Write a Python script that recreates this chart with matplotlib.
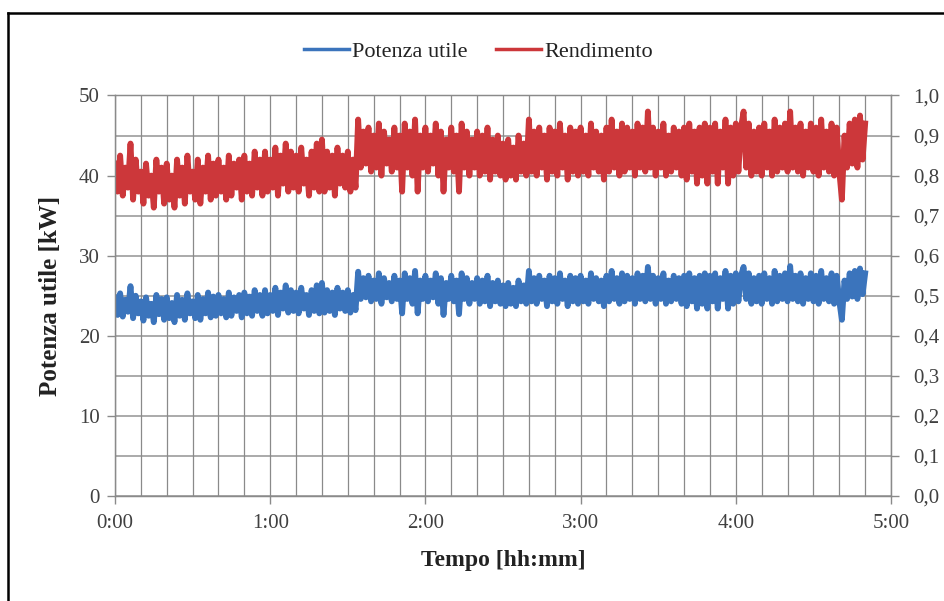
import numpy as np
import matplotlib
matplotlib.use("Agg")
import matplotlib.pyplot as plt
from matplotlib.ticker import MultipleLocator, FuncFormatter
from matplotlib.lines import Line2D

# Useful power [kW], one sample per minute
potenza_utile = [
    24.8, 22.6, 25.3, 22.4, 24.5, 23.0, 26.2, 22.2, 25.0, 22.8,
    24.3, 21.9, 24.8, 22.5, 24.0, 21.7, 25.1, 22.7, 24.6, 22.0,
    24.8, 22.2, 24.1, 21.7, 25.1, 22.5, 24.5, 22.0, 25.3, 22.8,
    24.3, 22.2, 25.1, 22.0, 24.6, 22.8, 25.4, 22.3, 24.9, 22.5,
    25.1, 22.8, 24.6, 22.3, 25.4, 22.5, 24.8, 23.1, 25.1, 22.3,
    25.4, 22.8, 24.9, 22.5, 25.7, 23.1, 25.1, 22.5, 25.7, 22.8,
    25.1, 23.1, 26.0, 22.6, 25.4, 23.4, 26.3, 22.9, 25.7, 23.1,
    25.4, 22.8, 26.0, 23.4, 25.1, 22.6, 25.7, 23.1, 26.3, 22.8,
    26.6, 22.9, 25.7, 23.1, 25.4, 22.6, 26.0, 23.4, 25.4, 23.1,
    25.7, 22.9, 25.1, 23.2,
    28.0, 24.6, 27.2, 24.8, 27.5, 24.3,
    26.9, 24.6, 27.8, 24.0, 27.2, 24.8, 26.6, 24.3, 27.5, 24.6,
    26.9, 22.8, 27.8, 24.6, 27.2, 24.0, 28.1, 22.8, 26.9, 24.6,
    27.5, 24.3, 26.9, 24.8, 27.8, 24.0, 27.2, 22.6, 26.6, 24.6,
    27.5, 24.3, 26.9, 22.7, 27.8, 24.6, 27.2, 24.0, 26.6, 24.6,
    27.2, 24.0, 26.9, 24.3, 27.5, 23.7, 26.6, 24.3, 26.9, 24.0,
    26.3, 23.7, 26.6, 24.0, 26.0, 23.7, 26.9, 24.3, 26.3, 24.0,
    28.1, 24.3, 27.2, 24.0, 27.5, 24.6, 26.9, 23.7, 27.5, 24.3,
    27.2, 24.0, 27.8, 24.6, 26.9, 23.7, 27.5, 24.3, 27.2, 24.0,
    27.5, 24.3, 26.9, 24.0, 27.8, 24.6, 27.2, 24.3, 26.9, 23.7,
    27.5, 24.3, 28.1, 24.6, 27.2, 24.0, 27.8, 24.3, 27.5, 24.6,
    27.2, 24.0, 27.8, 24.6, 27.5, 24.3, 28.6, 24.6, 27.5, 24.0,
    27.2, 24.6, 27.8, 24.0, 26.9, 24.3, 27.5, 24.6, 27.2, 24.0,
    27.5, 23.7, 27.8, 24.3, 27.2, 23.4, 27.5, 24.0, 27.8, 23.4,
    27.5, 24.3, 27.8, 23.4, 27.2, 24.6, 28.1, 23.4, 27.5, 24.0,
    27.8, 24.3, 27.5, 28.6, 24.6, 27.8, 24.0, 27.2, 24.3, 27.5,
    24.0, 27.8, 24.6, 27.2, 24.0, 28.1, 24.3, 27.5, 24.6, 27.8,
    24.3, 28.7, 24.6, 27.5, 24.3, 27.8, 24.0, 27.2, 24.6, 27.8,
    24.3, 27.5, 24.0, 28.1, 24.6, 27.2, 24.3, 27.8, 24.0, 27.5,
    24.3, 22.0, 26.9, 24.6, 27.8, 24.9, 28.1, 24.6, 28.4, 25.2, 27.8,
]

# Efficiency [-], same sampling
rendimento = [
    0.83, 0.76, 0.85, 0.75, 0.82, 0.77, 0.88, 0.74, 0.84, 0.76,
    0.81, 0.73, 0.83, 0.75, 0.80, 0.72, 0.84, 0.76, 0.82, 0.73,
    0.83, 0.74, 0.80, 0.72, 0.84, 0.75, 0.82, 0.73, 0.85, 0.76,
    0.81, 0.74, 0.84, 0.73, 0.82, 0.76, 0.85, 0.74, 0.83, 0.75,
    0.84, 0.76, 0.82, 0.74, 0.85, 0.75, 0.83, 0.77, 0.84, 0.74,
    0.85, 0.76, 0.83, 0.75, 0.86, 0.77, 0.84, 0.75, 0.86, 0.76,
    0.84, 0.77, 0.87, 0.75, 0.85, 0.78, 0.88, 0.76, 0.86, 0.77,
    0.85, 0.76, 0.87, 0.78, 0.84, 0.75, 0.86, 0.77, 0.88, 0.76,
    0.89, 0.76, 0.86, 0.77, 0.85, 0.75, 0.87, 0.78, 0.85, 0.77,
    0.86, 0.76, 0.84, 0.77,
    0.94, 0.82, 0.91, 0.83, 0.92, 0.81,
    0.90, 0.82, 0.93, 0.80, 0.91, 0.83, 0.89, 0.81, 0.92, 0.82,
    0.90, 0.76, 0.93, 0.82, 0.91, 0.80, 0.94, 0.76, 0.90, 0.82,
    0.92, 0.81, 0.90, 0.83, 0.93, 0.80, 0.91, 0.76, 0.89, 0.82,
    0.92, 0.81, 0.90, 0.76, 0.93, 0.82, 0.91, 0.80, 0.89, 0.82,
    0.91, 0.80, 0.90, 0.81, 0.92, 0.79, 0.89, 0.81, 0.90, 0.80,
    0.88, 0.79, 0.89, 0.80, 0.87, 0.79, 0.90, 0.81, 0.88, 0.80,
    0.94, 0.81, 0.91, 0.80, 0.92, 0.82, 0.90, 0.79, 0.92, 0.81,
    0.91, 0.80, 0.93, 0.82, 0.90, 0.79, 0.92, 0.81, 0.91, 0.80,
    0.92, 0.81, 0.90, 0.80, 0.93, 0.82, 0.91, 0.81, 0.90, 0.79,
    0.92, 0.81, 0.94, 0.82, 0.91, 0.80, 0.93, 0.81, 0.92, 0.82,
    0.91, 0.80, 0.93, 0.82, 0.92, 0.81, 0.96, 0.82, 0.92, 0.80,
    0.91, 0.82, 0.93, 0.80, 0.90, 0.81, 0.92, 0.82, 0.91, 0.80,
    0.92, 0.79, 0.93, 0.81, 0.91, 0.78, 0.92, 0.80, 0.93, 0.78,
    0.92, 0.81, 0.93, 0.78, 0.91, 0.82, 0.94, 0.78, 0.92, 0.80,
    0.93, 0.81, 0.92, 0.96, 0.82, 0.93, 0.80, 0.91, 0.81, 0.92,
    0.80, 0.93, 0.82, 0.91, 0.80, 0.94, 0.81, 0.92, 0.82, 0.93,
    0.81, 0.96, 0.82, 0.92, 0.81, 0.93, 0.80, 0.91, 0.82, 0.93,
    0.81, 0.92, 0.80, 0.94, 0.82, 0.91, 0.81, 0.93, 0.80, 0.92,
    0.81, 0.74, 0.90, 0.82, 0.93, 0.83, 0.94, 0.82, 0.95, 0.84, 0.93,
]

minuti = np.arange(len(rendimento))
ore_tick = [0, 60, 120, 180, 240, 300]
ore_label = ["0:00", "1:00", "2:00", "3:00", "4:00", "5:00"]

plt.rcParams['font.family'] = ['Liberation Serif', 'DejaVu Serif']

BLUE = '#3b74bc'
RED = '#cc373a'
GRID = '#8a8a8a'
TXT = '#404040'

fig = plt.figure(figsize=(9.44, 6.01), dpi=100)
ax = fig.add_axes([0.1218, 0.1747, 0.8221, 0.6664])
ax2 = ax.twinx()

# thick lines so the minute-by-minute swings merge into a solid band
ax.plot(minuti, potenza_utile, color=BLUE, lw=4.2, solid_joinstyle='round', label='Potenza utile')
ax2.plot(minuti, rendimento, color=RED, lw=4.2, solid_joinstyle='round', label='Rendimento')

ax.set_xlim(0, 300)
ax.set_ylim(0, 50)
ax2.set_ylim(0, 1.0)

# x axis: hours labelled, grid every 10 minutes
ax.set_xticks(ore_tick)
ax.set_xticklabels(ore_label)
ax.xaxis.set_minor_locator(MultipleLocator(10))
ax.yaxis.set_major_locator(MultipleLocator(10))
ax.yaxis.set_minor_locator(MultipleLocator(5))
ax2.yaxis.set_major_locator(MultipleLocator(0.1))
ax2.yaxis.set_major_formatter(FuncFormatter(lambda v, p: f"{v:.1f}".replace('.', ',')))

ax.grid(True, which='both', axis='x', color=GRID, lw=0.9)
ax.grid(True, which='both', axis='y', color=GRID, lw=1.2, alpha=0.85)
ax.set_axisbelow(True)

for a in (ax, ax2):
    for s in a.spines.values():
        s.set_color(GRID)
        s.set_linewidth(0.9)

ax.tick_params(axis='both', which='major', labelsize=15, colors=GRID, labelcolor=TXT, length=6, width=1)
ax.tick_params(axis='x', which='major', pad=7)
ax.tick_params(axis='y', which='major', pad=5)
ax.tick_params(which='minor', length=0)
ax2.tick_params(axis='y', labelsize=15, colors=GRID, labelcolor=TXT, length=6, width=1, pad=10)

ax.set_xlabel('Tempo [hh:mm]', fontsize=17, fontweight='bold', color='#222222', labelpad=12)
ax.set_ylabel('Potenza utile [kW]', fontsize=18, fontweight='bold', color='#222222', labelpad=12)

handles = [Line2D([], [], color=BLUE, lw=2.5), Line2D([], [], color=RED, lw=2.5)]
fig.legend(handles, ['Potenza utile', 'Rendimento'], loc='center', bbox_to_anchor=(0.507, 0.914),
           ncol=2, frameon=False, fontsize=16, handlelength=2.0, handletextpad=0.15,
           columnspacing=1.3, labelcolor='#222222')

# outer frame (top and left edges)
fig.add_artist(Line2D([8 / 944, 8 / 944], [0, 1 - 13 / 601], transform=fig.transFigure, color='black', lw=1.8))
fig.add_artist(Line2D([8 / 944, 1], [1 - 13 / 601, 1 - 13 / 601], transform=fig.transFigure, color='black', lw=1.8))

fig.savefig('out.png', dpi=100, facecolor='white')
